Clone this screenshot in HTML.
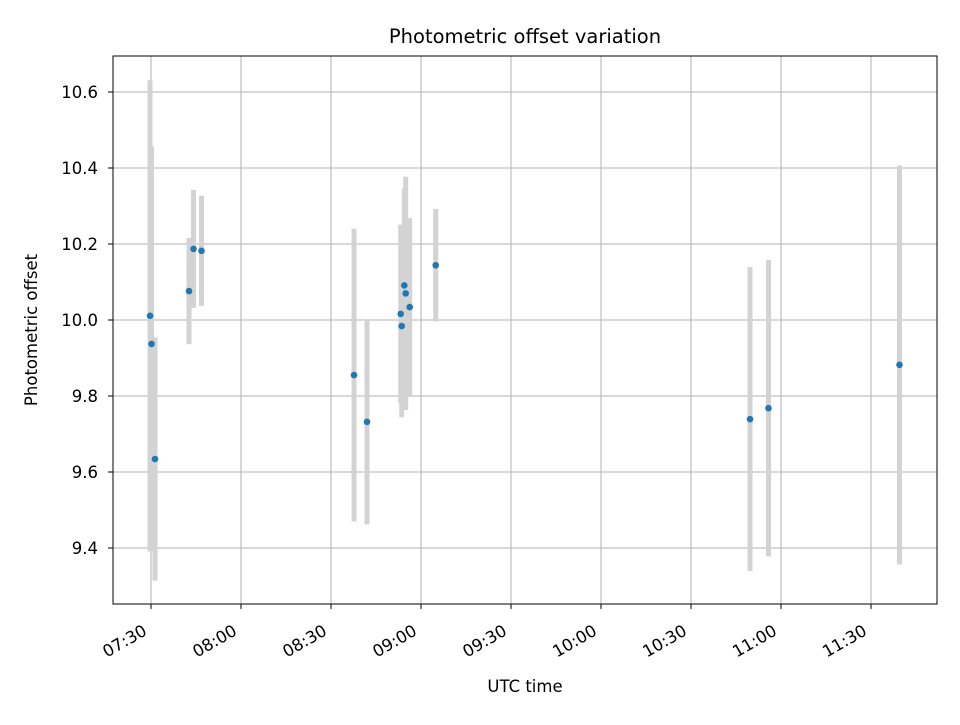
<!DOCTYPE html>
<html><head><meta charset="utf-8"><style>
body{margin:0;background:#fff;}
svg text{font-family:"DejaVu Sans","Liberation Sans",sans-serif;fill:#000;}
</style></head><body>
<svg id="chart" width="960" height="720" xmlns="http://www.w3.org/2000/svg">
<rect width="960" height="720" fill="#fff"/>
<text x="525" y="43" font-size="19.5" text-anchor="middle">Photometric offset variation</text>
<text x="525" y="692" font-size="16.5" text-anchor="middle">UTC time</text>
<text x="0" y="0" font-size="16.5" text-anchor="middle" transform="translate(37,330) rotate(-90)">Photometric offset</text>
<g id="grid"></g>
<g id="marks"></g>
<g id="axes"></g>
</svg>
<script>
// time in minutes since midnight (UTC)
const times = [449.67,450.17,451.33,462.67,464.17,466.83,517.67,522,534.43,534.9,536.23,533.23,533.57,544.9,649.67,655.83,699.5];
const offsets = [10.011,9.937,9.634,10.076,10.187,10.182,9.855,9.732,10.091,10.07,10.034,10.016,9.984,10.144,9.739,9.768,9.882];
const errors = [0.62,0.52,0.32,0.14,0.155,0.145,0.385,0.27,0.255,0.307,0.234,0.235,0.24,0.148,0.4,0.39,0.525];
const xTicks = [450,480,510,540,570,600,630,660,690];
const xTickLabels = ["07:30","08:00","08:30","09:00","09:30","10:00","10:30","11:00","11:30"];
const yTicks = [9.4,9.6,9.8,10.0,10.2,10.4,10.6];
const yTickLabels = ["9.4","9.6","9.8","10.0","10.2","10.4","10.6"];

const L=113,R=937,T=56,B=604;
const xMin=437.33,xMax=712,yMin=9.2526,yMax=10.6947;
const xs=t=>L+(t-xMin)/(xMax-xMin)*(R-L);
const ys=v=>B-(v-yMin)/(yMax-yMin)*(B-T);
const NS="http://www.w3.org/2000/svg";
function mk(tag,attrs,parent){const e=document.createElementNS(NS,tag);for(const k in attrs)e.setAttribute(k,attrs[k]);parent.appendChild(e);return e;}
const grid=document.getElementById('grid'),marks=document.getElementById('marks'),axes=document.getElementById('axes');
xTicks.forEach((t,i)=>{
  const x=xs(t);
  const g=mk('line',{x1:x,x2:x,y1:T,y2:B,stroke:'#b0b0b0','stroke-width':1},grid);
  
  
  const tk=mk('line',{x1:x,x2:x,y1:B,y2:B+5,stroke:'#000','stroke-width':1},axes);
  
  
  const lb=mk('text',{x:0,y:0,'font-size':16.5,'text-anchor':'end',transform:`translate(${x-3},634) rotate(-30)`},axes);
  lb.textContent=xTickLabels[i];
  
  
});
yTicks.forEach((v,i)=>{
  const y=ys(v);
  const g=mk('line',{x1:L,x2:R,y1:y,y2:y,stroke:'#b0b0b0','stroke-width':1},grid);
  
  
  const tk=mk('line',{x1:L-5,x2:L,y1:y,y2:y,stroke:'#000','stroke-width':1},axes);
  
  
  const lb=mk('text',{x:L-15,y:y+6,'font-size':16.5,'text-anchor':'end'},axes);
  lb.textContent=yTickLabels[i];
  
  
});
times.forEach((t,i)=>{
  const x=xs(t);
  const e=mk('line',{x1:x,x2:x,y1:ys(offsets[i]+errors[i]),y2:ys(offsets[i]-errors[i]),stroke:'#d3d3d3','stroke-width':5},marks);
  
  
});
times.forEach((t,i)=>{
  const c=mk('circle',{cx:xs(t),cy:ys(offsets[i]),r:3.3,fill:'#1f77b4'},marks);
  
  
});
const fr=mk('rect',{x:L,y:T,width:R-L,height:B-T,fill:'none',stroke:'#000','stroke-width':1},axes);


</script>
</body></html>
